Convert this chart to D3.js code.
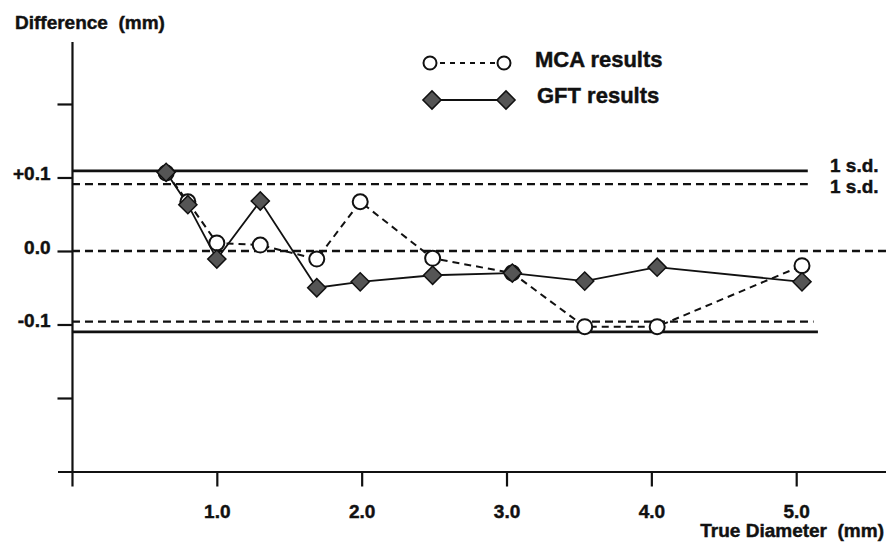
<!DOCTYPE html>
<html>
<head>
<meta charset="utf-8">
<script src="https://cdn.jsdelivr.net/npm/d3@7"></script>
<style>
  body { margin: 0; background: #fff; }
  text { font-family: "Liberation Sans", Arial, sans-serif; font-weight: bold; fill: #111; stroke: #111; stroke-width: 0.45px; }
</style>
</head>
<body>
<div id="chart"></div>
<script>
// Data
const diameters = [0.65, 0.80, 1.0, 1.3, 1.69, 1.99, 2.49, 3.04, 3.54, 4.04, 5.04];
const mcaDiff = [0.106, 0.067, 0.011, 0.008, -0.011, 0.067, -0.010, -0.030, -0.103, -0.103, -0.020];
const gftDiff = [0.107, 0.063, -0.011, 0.068, -0.050, -0.042, -0.033, -0.030, -0.041, -0.022, -0.042];

// Reference lines (mean and +/- 1 s.d.)
const refValues = [0.109, 0.091, 0.0, -0.096, -0.110];
const refEnds = [5.08, 5.08, 5.62, 5.12, 5.15];
const refSeries = ["GFT", "MCA", "mean", "MCA", "GFT"];

const sdLabels = ["1 s.d.", "1 s.d."];

const xTickValues = [0, 1, 2, 3, 4, 5];
const xTickLabels = ["", "1.0", "2.0", "3.0", "4.0", "5.0"];
const yTickValues = [-0.2, -0.1, 0, 0.1, 0.2];
const yTickLabels = ["", "-0.1", "0.0", "+0.1", ""];

const legendNames = ["MCA results", "GFT results"];

const drawChart = () => {
  const width = 886;
  const height = 546;

  const svg = d3.select("#chart")
    .append("svg")
    .attr("width", width)
    .attr("height", height);

  // Scales
  const xScale = d3.scaleLinear()
    .domain([-0.1, 5.62])
    .range([57.5, 886]);
  const yScale = d3.scaleLinear()
    .domain([-0.3, 0.285])
    .range([471.5, 41.5]);

  // Axes
  const bottomAxis = d3.axisBottom(xScale)
    .tickValues(xTickValues)
    .tickFormat((d, i) => xTickLabels[i])
    .tickSize(15)
    .tickSizeOuter(0)
    .tickPadding(18);
  svg.append("g")
    .attr("class", "axis-x")
    .attr("transform", `translate(0, ${yScale(-0.3)})`)
    .call(bottomAxis);

  const leftAxis = d3.axisLeft(yScale)
    .tickValues(yTickValues)
    .tickFormat((d, i) => yTickLabels[i])
    .tickSize(14.5)
    .tickSizeOuter(0)
    .tickPadding(7);
  svg.append("g")
    .attr("class", "axis-y")
    .attr("transform", `translate(${xScale(0)}, 0)`)
    .call(leftAxis);

  svg.selectAll(".axis-x path, .axis-y path, .axis-x line, .axis-y line")
    .attr("stroke", "#111")
    .attr("stroke-width", 2.2);
  svg.selectAll(".axis-x text, .axis-y text")
    .style("font-family", "'Liberation Sans', Arial, sans-serif")
    .style("font-weight", "bold")
    .style("font-size", "19px")
    .attr("fill", "#111");
  svg.selectAll(".axis-y text").attr("dy", "0.12em");

  // Axis titles
  svg.append("text")
    .text("Difference  (mm)")
    .attr("x", 15)
    .attr("y", 29)
    .style("white-space", "pre")
    .style("font-size", "19px");
  svg.append("text")
    .text("True Diameter  (mm)")
    .attr("x", 884)
    .attr("y", 537)
    .attr("text-anchor", "end")
    .style("white-space", "pre")
    .style("font-size", "19px");

  // Reference lines
  const refs = refValues.map((v, i) => ({ value: v, end: refEnds[i], series: refSeries[i] }));
  svg.selectAll(".ref")
    .data(refs)
    .join("line")
      .attr("class", "ref")
      .attr("x1", xScale(0))
      .attr("x2", d => xScale(d.end))
      .attr("y1", d => yScale(d.value))
      .attr("y2", d => yScale(d.value))
      .attr("stroke", "#111")
      .attr("stroke-width", d => d.series === "GFT" ? 2.8 : 2.3)
      .attr("stroke-dasharray", d => d.series === "GFT" ? null : "8,5");

  // s.d. labels
  svg.append("text")
    .text(sdLabels[0])
    .attr("x", 830)
    .attr("y", yScale(refValues[0]) + 1)
    .style("font-size", "19px");
  svg.append("text")
    .text(sdLabels[1])
    .attr("x", 830)
    .attr("y", yScale(refValues[1]) + 9)
    .style("font-size", "19px");

  const mca = diameters.map((d, i) => ({ x: d, y: mcaDiff[i] }));
  const gft = diameters.map((d, i) => ({ x: d, y: gftDiff[i] }));

  const lineGenerator = d3.line()
    .x(d => xScale(d.x))
    .y(d => yScale(d.y));

  // MCA dashed line
  svg.append("path")
    .attr("d", lineGenerator(mca))
    .attr("fill", "none")
    .attr("stroke", "#111")
    .attr("stroke-width", 2)
    .attr("stroke-dasharray", "7,5");

  // GFT solid line
  svg.append("path")
    .attr("d", lineGenerator(gft))
    .attr("fill", "none")
    .attr("stroke", "#111")
    .attr("stroke-width", 1.8);

  // MCA circles
  svg.selectAll(".mca")
    .data(mca)
    .join("circle")
      .attr("class", "mca")
      .attr("cx", d => xScale(d.x))
      .attr("cy", d => yScale(d.y))
      .attr("r", 7.5)
      .attr("fill", "#fff")
      .attr("stroke", "#111")
      .attr("stroke-width", 2);

  // GFT diamonds
  const diamond = d3.symbol(d3.symbolSquare, 165);
  svg.selectAll(".gft")
    .data(gft)
    .join("path")
      .attr("class", "gft")
      .attr("d", diamond)
      .attr("transform", d => `translate(${xScale(d.x)}, ${yScale(d.y)}) rotate(45)`)
      .attr("fill", "#555")
      .attr("stroke", "#111")
      .attr("stroke-width", 1.5);

  // Legend
  const legend = svg.append("g");
  legend.append("line")
    .attr("x1", 430).attr("x2", 504)
    .attr("y1", 63).attr("y2", 63)
    .attr("stroke", "#111")
    .attr("stroke-width", 1.8)
    .attr("stroke-dasharray", "5,5");
  legend.selectAll(".lg-c")
    .data([430, 504])
    .join("circle")
      .attr("class", "lg-c")
      .attr("cx", d => d)
      .attr("cy", 63)
      .attr("r", 6.5)
      .attr("fill", "#fff")
      .attr("stroke", "#111")
      .attr("stroke-width", 2);
  legend.append("text")
    .text(legendNames[0])
    .attr("x", 535)
    .attr("y", 67)
    .style("font-size", "22px");

  legend.append("line")
    .attr("x1", 432).attr("x2", 506)
    .attr("y1", 100).attr("y2", 100)
    .attr("stroke", "#111")
    .attr("stroke-width", 1.8);
  legend.selectAll(".lg-d")
    .data([432, 506])
    .join("path")
      .attr("class", "lg-d")
      .attr("d", diamond)
      .attr("transform", d => `translate(${d}, 100) rotate(45)`)
      .attr("fill", "#555")
      .attr("stroke", "#111")
      .attr("stroke-width", 1.5);
  legend.append("text")
    .text(legendNames[1])
    .attr("x", 537)
    .attr("y", 103)
    .style("font-size", "22px");
};

drawChart();
</script>
</body>
</html>
